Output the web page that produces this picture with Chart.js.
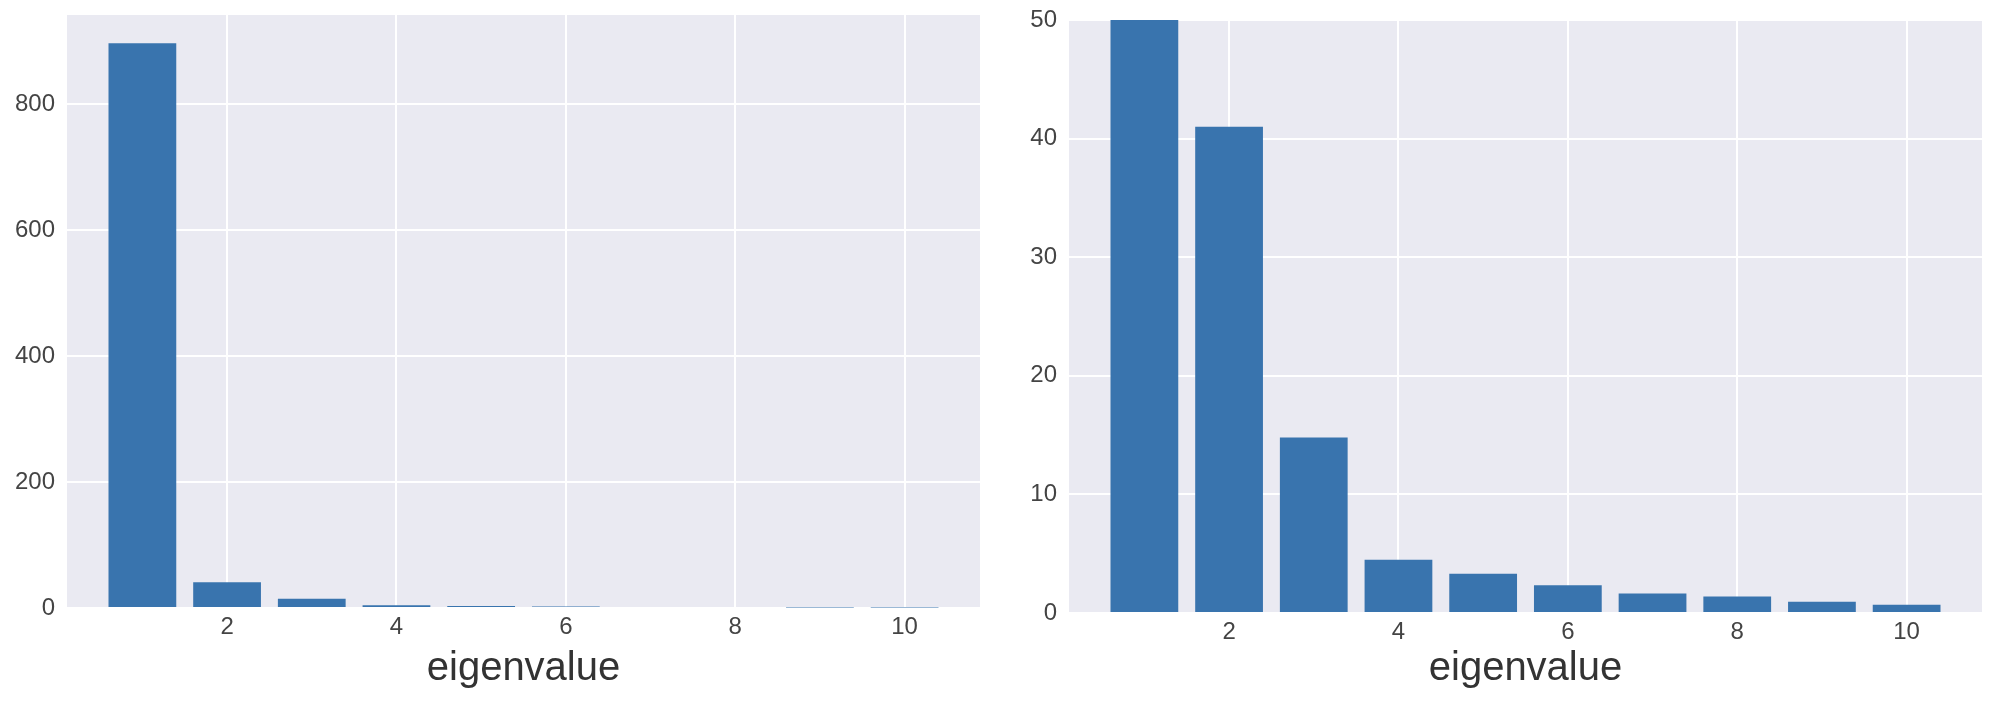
<!DOCTYPE html>
<html>
<head>
<meta charset="utf-8">
<script src="https://cdn.jsdelivr.net/npm/chart.js@4/dist/chart.umd.min.js"></script>
<style>
  html, body { margin: 0; padding: 0; background: #ffffff; }
  body { width: 2004px; height: 710px; position: relative; overflow: hidden; }
  canvas { position: absolute; top: 0; }
  #leftChart { left: 0; }
  #rightChart { left: 1002px; }
</style>
</head>
<body>
<canvas id="leftChart" width="1002" height="710"></canvas>
<canvas id="rightChart" width="1002" height="710"></canvas>
<script>
// ====== Data ======
const ranks = [1, 2, 3, 4, 5, 6, 7, 8, 9, 10];
const eigenvalues = [897, 41.0, 14.8, 4.5, 3.3, 2.35, 1.65, 1.4, 0.95, 0.7];
const xTicks = [2, 4, 6, 8, 10];
const leftYTicks = [0, 200, 400, 600, 800];
const rightYTicks = [0, 10, 20, 30, 40, 50];
const axisLabel = 'eigenvalue';

const FONT = '"Liberation Sans", Arial, Helvetica, sans-serif';
const BAR_COLOR = '#3974ae';
const PANEL_BG = '#eaeaf2';

// paint the seaborn-style grey panel behind the grid
const panelBackground = {
    id: 'panelBackground',
    beforeDraw(chart) {
        const { ctx, chartArea } = chart;
        ctx.save();
        ctx.fillStyle = PANEL_BG;
        ctx.fillRect(chartArea.left, chartArea.top, chartArea.right - chartArea.left, chartArea.bottom - chartArea.top);
        ctx.restore();
    }
};

function makeChart(canvasId, yMax, yTicks, opts) {
    const points = ranks.map((r, i) => ({ x: r, y: eigenvalues[i] }));

    return new Chart(document.getElementById(canvasId), {
        type: 'bar',
        data: {
            datasets: [{
                data: points,
                backgroundColor: BAR_COLOR,
                borderWidth: 0,
                barPercentage: 0.8,
                categoryPercentage: 1.0,
                clip: 0
            }]
        },
        options: {
            responsive: false,
            animation: false,
            layout: { padding: { top: opts.top, right: opts.right, left: 0, bottom: 0 } },
            plugins: {
                legend: { display: false },
                tooltip: { enabled: false }
            },
            scales: {
                x: {
                    type: 'linear',
                    offset: false,
                    min: 0.11,
                    max: 10.89,
                    afterBuildTicks: axis => { axis.ticks = xTicks.map(v => ({ value: v })); },
                    afterFit: axis => {
                        axis.height = opts.xHeight;
                        axis.paddingLeft = 0;
                        axis.paddingRight = 0;
                    },
                    grid: { color: '#ffffff', lineWidth: 2, drawTicks: false, offset: false },
                    border: { display: false },
                    ticks: {
                        padding: 5,
                        color: '#444444',
                        font: { family: FONT, size: 24 },
                        maxRotation: 0,
                        callback: v => String(v)
                    },
                    title: {
                        display: true,
                        text: axisLabel,
                        color: '#333333',
                        font: { family: FONT, size: 40, lineHeight: 1 },
                        padding: { top: 0, bottom: 21 }
                    }
                },
                y: {
                    min: 0,
                    max: yMax,
                    afterBuildTicks: axis => { axis.ticks = yTicks.map(v => ({ value: v })); },
                    afterFit: axis => {
                        axis.width = 67;
                        axis.paddingTop = 0;
                        axis.paddingBottom = 0;
                    },
                    grid: { color: '#ffffff', lineWidth: 2, drawTicks: false },
                    border: { display: false },
                    ticks: {
                        padding: 12,
                        color: '#444444',
                        font: { family: FONT, size: 24 },
                        callback: v => String(v)
                    }
                }
            }
        },
        plugins: [panelBackground]
    });
}

makeChart('leftChart', 942, leftYTicks, { top: 15, right: 22, xHeight: 102 });
makeChart('rightChart', 50, rightYTicks, { top: 20, right: 22, xHeight: 97 });
</script>
</body>
</html>
